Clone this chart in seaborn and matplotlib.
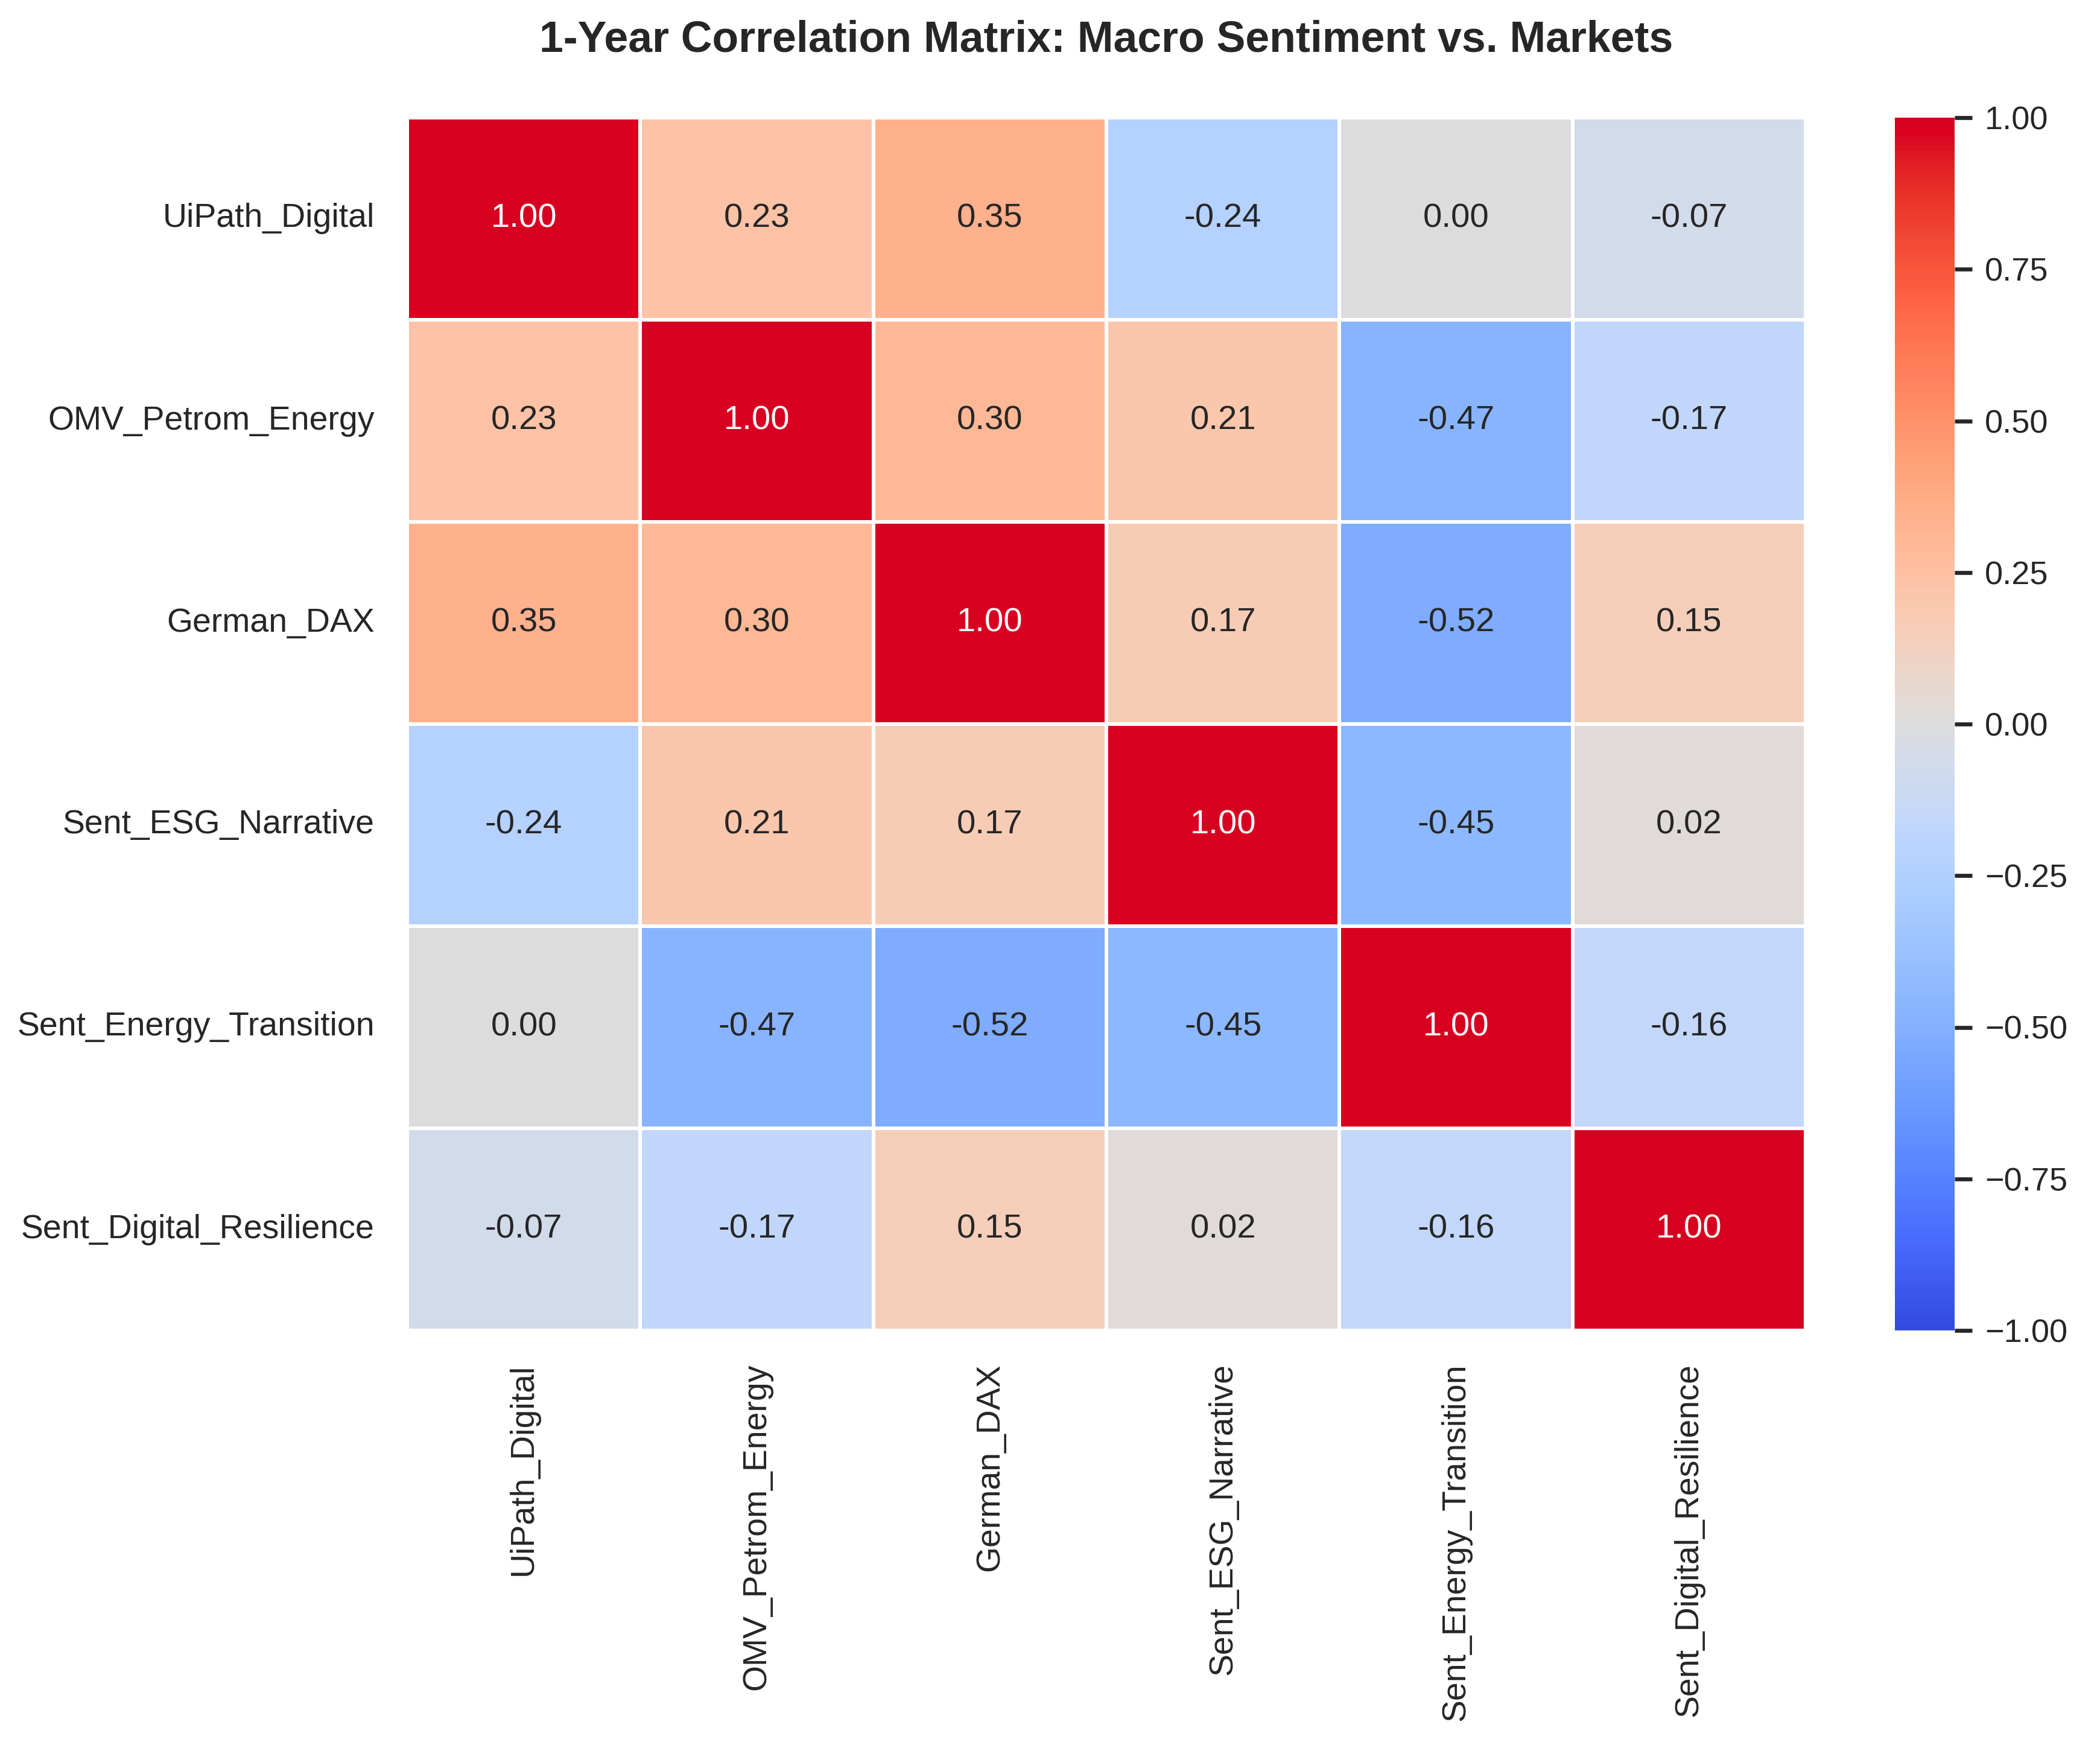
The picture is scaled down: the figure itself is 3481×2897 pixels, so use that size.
import numpy as np
import pandas as pd
import matplotlib
matplotlib.use("Agg")
import matplotlib.pyplot as plt
from matplotlib.colors import ListedColormap
import seaborn as sns

labels = ["UiPath_Digital", "OMV_Petrom_Energy", "German_DAX",
          "Sent_ESG_Narrative", "Sent_Energy_Transition", "Sent_Digital_Resilience"]

row_uipath = [1.00, 0.23, 0.35, -0.24, 0.00, -0.07]
row_omv = [0.23, 1.00, 0.30, 0.21, -0.47, -0.17]
row_dax = [0.35, 0.30, 1.00, 0.17, -0.52, 0.15]
row_esg = [-0.24, 0.21, 0.17, 1.00, -0.45, 0.02]
row_energy = [0.00, -0.47, -0.52, -0.45, 1.00, -0.16]
row_digital = [-0.07, -0.17, 0.15, 0.02, -0.16, 1.00]

title = "1-Year Correlation Matrix: Macro Sentiment vs. Markets"
cbar_ticks = [-1.0, -0.75, -0.5, -0.25, 0.0, 0.25, 0.5, 0.75, 1.0]

corr = pd.DataFrame([row_uipath, row_omv, row_dax, row_esg, row_energy, row_digital],
                    index=labels, columns=labels)

# coolwarm with a vivid (saturation-boosted) look, as in the reference
base = plt.get_cmap("coolwarm")(np.linspace(0, 1, 256))[:, :3]
lum = (0.299 * base[:, 0] + 0.587 * base[:, 1] + 0.114 * base[:, 2])[:, None]
vivid = np.clip(lum + (base - lum) * 1.3, 0, 1)
cmap = ListedColormap(vivid, name="coolwarm_vivid")

sns.set_theme(style="white")
plt.rcParams['font.family'] = ['Liberation Sans', 'DejaVu Sans']

W, H = 3481, 2897
dpi = 300
fig = plt.figure(figsize=(W / dpi, H / dpi), dpi=dpi)
ax = fig.add_axes([675 / W, 1 - 2205 / H, (2993 - 675) / W, (2205 - 195) / H])
cax = fig.add_axes([3141 / W, 1 - 2205 / H, (3240 - 3141) / W, (2205 - 195) / H])

sns.heatmap(corr, ax=ax, cbar_ax=cax, cmap=cmap, vmin=-1, vmax=1,
            annot=True, fmt=".2f", linewidths=1.0, linecolor="white",
            annot_kws={"fontsize": 13.5})

ax.tick_params(axis="both", length=0, labelsize=13.3, pad=13)
ax.set_xticklabels(labels, rotation=90)
ax.set_yticklabels(labels, rotation=0)
ax.set_xlabel("")
ax.set_ylabel("")

cax.tick_params(labelsize=13, length=7, width=1.6, color="#262626", pad=5)
cax.set_yticks(cbar_ticks)
cax.yaxis.set_major_formatter(
    matplotlib.ticker.FuncFormatter(lambda v, p: f"{v:.2f}".replace("-", "\u2212")))
for s in cax.spines.values():
    s.set_visible(False)

fig.text((675 + 2993) / 2 / W, 1 - 67 / H, title, ha="center", va="center",
         fontsize=17.2, fontweight="bold", color="#262626")

fig.savefig("out.png", dpi=dpi)
